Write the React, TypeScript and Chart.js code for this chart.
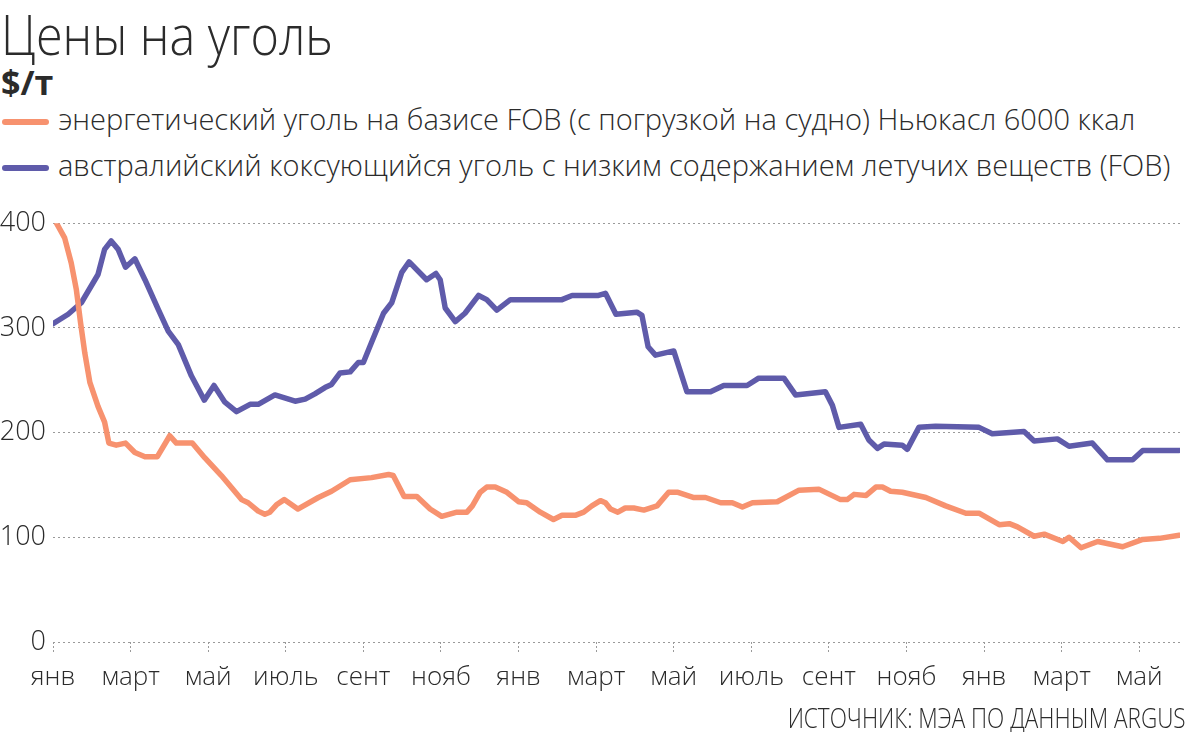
import { useEffect, useLayoutEffect, useRef } from 'react';
import { Chart, registerables } from 'chart.js';

Chart.register(...registerables);

const FONT = "'Open Sans', 'Noto Sans', sans-serif";
const ORANGE = '#F7926F';
const BLUE = '#5F5BAA';
const TEXT = '#2b2b2b';

const title = 'Цены на уголь';
const unit = '$/т';
const seriesNames = [
  'энергетический уголь на базисе FOB (с погрузкой на судно) Ньюкасл 6000 ккал',
  'австралийский коксующийся уголь с низким содержанием летучих веществ (FOB)',
];
const sourceNote = 'ИСТОЧНИК: МЭА ПО ДАННЫМ ARGUS';

// months counted from January of the first year
const tickMonths = [0, 2, 4, 6, 8, 10, 12, 14, 16, 18, 20, 22, 24, 26, 28];
const tickLabels = ['янв', 'март', 'май', 'июль', 'сент', 'нояб', 'янв', 'март', 'май', 'июль', 'сент', 'нояб', 'янв', 'март', 'май'];

const steamMonths = [
  0.09, 0.3, 0.47, 0.6, 0.71, 0.82, 0.95, 1.16, 1.33, 1.44, 1.63, 1.87, 2.11, 2.37, 2.69, 3.01, 3.18, 3.59,
  3.91, 4.34, 4.86, 5.03, 5.29, 5.46, 5.59, 5.76, 5.96, 6.31, 6.84, 7.18, 7.66, 8.21, 8.65, 8.77, 9.05, 9.38,
  9.72, 10.02, 10.41, 10.67, 10.81, 11.01, 11.18, 11.4, 11.7, 12.0, 12.21, 12.56, 12.9, 13.12, 13.46, 13.68,
  13.89, 14.11, 14.24, 14.37, 14.56, 14.75, 14.97, 15.23, 15.57, 15.87, 16.11, 16.52, 16.82, 17.21, 17.51,
  17.77, 18.03, 18.67, 19.23, 19.74, 20.3, 20.47, 20.65, 20.96, 21.21, 21.38, 21.59, 21.89, 22.5, 23.01,
  23.53, 23.87, 24.39, 24.65, 24.86, 25.29, 25.55, 26.03, 26.19, 26.5, 26.93, 27.57, 28.09, 28.52, 29.03,
];
const steamValues = [
  400, 386, 362, 337, 305, 276, 248, 225, 210, 190, 188, 190, 181, 177, 177, 197, 190, 190,
  176, 159, 136, 133, 125, 122, 124, 131, 136, 127, 138, 144, 155, 157, 160, 159, 139, 139,
  127, 120, 124, 124, 130, 143, 148, 148, 143, 134, 133, 124, 117, 121, 121, 124,
  130, 135, 133, 127, 124, 128, 128, 126, 130, 143, 143, 138, 138, 133, 133,
  129, 133, 134, 145, 146, 136, 136, 141, 140, 148, 148, 144, 143, 138, 130,
  123, 123, 112, 113, 110, 101, 103, 96, 100, 90, 96, 91, 98, 99, 102,
];

const cokingMonths = [
  0, 0.39, 0.73, 1.16, 1.33, 1.5, 1.68, 1.87, 2.11, 2.37, 2.71, 2.97, 3.23, 3.57, 3.9, 4.15, 4.43, 4.73,
  5.08, 5.29, 5.72, 6.24, 6.5, 6.75, 7.01, 7.18, 7.4, 7.66, 7.87, 8.0, 8.21, 8.52, 8.73, 8.99, 9.18, 9.63,
  9.87, 9.98, 10.11, 10.37, 10.62, 10.97, 11.18, 11.44, 11.79, 13.12, 13.38, 14.06, 14.24, 14.51, 15.05,
  15.18, 15.34, 15.53, 16.0, 16.34, 16.95, 17.29, 17.89, 18.19, 18.84, 19.14, 19.91, 20.09, 20.26, 20.82,
  21.03, 21.25, 21.42, 21.89, 22.02, 22.32, 22.75, 23.87, 24.21, 25.03, 25.29, 25.89, 26.19, 26.79, 27.18,
  27.83, 28.09, 29.03,
];
const cokingValues = [
  304, 313, 324, 351, 375, 383, 375, 358, 366, 346, 318, 297, 284, 254, 231, 245, 229, 220,
  227, 227, 236, 230, 232, 237, 243, 246, 257, 258, 267, 267, 286, 314, 324, 353, 363, 346,
  352, 346, 319, 306, 314, 331, 327, 317, 327, 327, 331, 331, 333, 313, 315,
  312, 282, 274, 278, 239, 239, 245, 245, 252, 252, 236, 239, 226, 205, 208,
  193, 185, 189, 188, 184, 205, 206, 205, 199, 201, 192, 194, 187, 190, 174,
  174, 183, 183,
];

const LineChart = () => {
  const chartRef = useRef<HTMLCanvasElement | null>(null);
  const chartInstance = useRef<Chart | null>(null);

  useEffect(() => {
    if (!chartRef.current) return;
    const ctx = chartRef.current.getContext('2d');
    if (!ctx) return;

    if (chartInstance.current) {
      chartInstance.current.destroy();
    }

    chartInstance.current = new Chart(ctx, {
      type: 'line',
      data: {
        datasets: [
          {
            label: seriesNames[0],
            data: steamMonths.map((m, i) => ({ x: m, y: steamValues[i] })),
            borderColor: ORANGE,
            borderWidth: 5.5,
            pointRadius: 0,
            tension: 0,
            borderJoinStyle: 'round',
            borderCapStyle: 'round',
          },
          {
            label: seriesNames[1],
            data: cokingMonths.map((m, i) => ({ x: m, y: cokingValues[i] })),
            borderColor: BLUE,
            borderWidth: 5.5,
            pointRadius: 0,
            tension: 0,
            borderJoinStyle: 'round',
            borderCapStyle: 'round',
          },
        ],
      },
      options: {
        animation: false,
        responsive: true,
        maintainAspectRatio: false,
        layout: { padding: { top: 15, right: 6, left: 0, bottom: 0 } },
        plugins: {
          legend: { display: false },
          tooltip: { enabled: false },
        },
        scales: {
          x: {
            type: 'linear',
            min: 0,
            max: 29.05,
            afterBuildTicks: (scale: any) => {
              scale.ticks = tickMonths.map((v) => ({ value: v }));
            },
            afterFit: (scale: any) => {
              scale.height = 58;
            },
            ticks: {
              autoSkip: false,
              maxRotation: 0,
              padding: 9,
              color: TEXT,
              font: { family: FONT, size: 26, weight: '300' },
              callback: (value: any) => tickLabels[tickMonths.indexOf(Number(value))],
            },
            grid: {
              drawOnChartArea: false,
              drawTicks: true,
              tickLength: 11,
              tickColor: '#9a9a9a',
              tickBorderDash: [2, 2],
            },
            border: { display: false },
          },
          y: {
            min: 0,
            max: 400,
            afterFit: (scale: any) => {
              scale.width = 53;
            },
            ticks: {
              stepSize: 100,
              padding: 7,
              color: TEXT,
              font: { family: FONT, size: 27, weight: '300' },
            },
            grid: { color: '#9a9a9a', drawTicks: false, lineWidth: 1 },
            border: { display: false, dash: [2, 3] },
          },
        },
      },
    });

    return () => {
      if (chartInstance.current) {
        chartInstance.current.destroy();
        chartInstance.current = null;
      }
    };
  }, []);

  return <canvas ref={chartRef} />;
};

const App = () => {
  const titleRef = useRef<HTMLSpanElement | null>(null);
  const sourceRef = useRef<HTMLSpanElement | null>(null);

  useLayoutEffect(() => {
    document.body.style.margin = '0';
    // the reference face is narrower than Open Sans; squeeze these two lines to its widths
    const fit = (el: HTMLSpanElement | null, target: number) => {
      if (!el) return;
      const w = el.getBoundingClientRect().width;
      if (w > 0) el.style.transform = `scaleX(${target / w})`;
    };
    fit(titleRef.current, 332);
    fit(sourceRef.current, 398);
  }, []);

  const legendRow = (text: string, color: string, y: number) => (
    <div key={text}>
      <div
        style={{
          position: 'absolute',
          left: 2,
          top: y - 3,
          width: 47,
          height: 6,
          borderRadius: 3,
          background: color,
        }}
      />
      <div
        style={{
          position: 'absolute',
          left: 58,
          top: y - 18,
          fontSize: 29,
          fontWeight: 300,
          lineHeight: 1,
          whiteSpace: 'nowrap',
        }}
      >
        {text}
      </div>
    </div>
  );

  return (
    <div
      style={{
        position: 'relative',
        width: 1186,
        height: 732,
        overflow: 'hidden',
        background: '#fff',
        fontFamily: FONT,
        color: TEXT,
      }}
    >
      <div style={{ position: 'absolute', left: 1, top: 5, lineHeight: 1 }}>
        <span
          ref={titleRef}
          style={{ display: 'inline-block', fontSize: 56, fontWeight: 300, whiteSpace: 'nowrap', transformOrigin: 'left center' }}
        >
          {title}
        </span>
      </div>
      <div style={{ position: 'absolute', left: 1, top: 65, fontSize: 34, fontWeight: 700, lineHeight: 1 }}>{unit}</div>
      {legendRow(seriesNames[0], ORANGE, 122)}
      {legendRow(seriesNames[1], BLUE, 168)}
      <div style={{ position: 'absolute', left: 0, top: 200, width: 1186, height: 500 }}>
        <LineChart />
      </div>
      <div style={{ position: 'absolute', right: 0, top: 704, lineHeight: 1 }}>
        <span
          ref={sourceRef}
          style={{ display: 'inline-block', fontSize: 27, fontWeight: 300, whiteSpace: 'nowrap', transformOrigin: 'right center' }}
        >
          {sourceNote}
        </span>
      </div>
    </div>
  );
};

export default App;
